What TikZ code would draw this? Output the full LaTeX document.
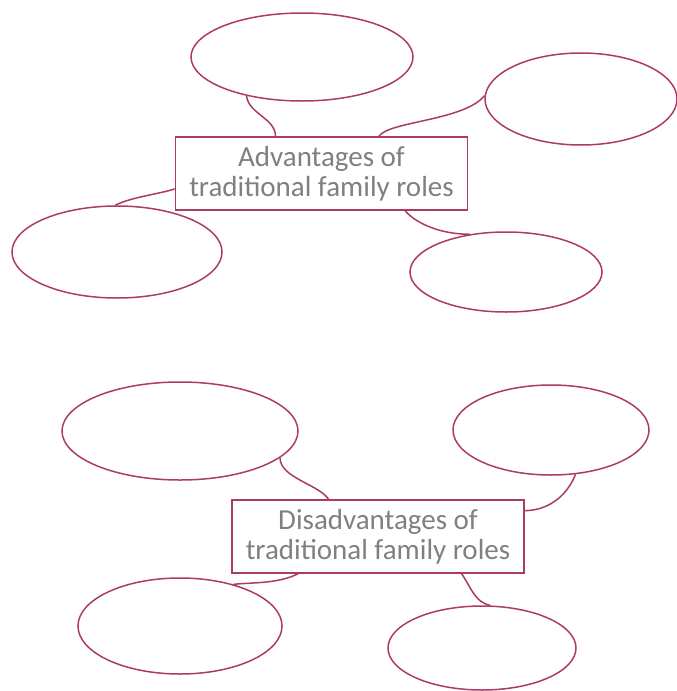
\documentclass[tikz,border=0pt]{standalone}
\usepackage{fontspec}
\setmainfont{Carlito}
\usetikzlibrary{shapes.geometric, positioning, calc}

\definecolor{plum}{RGB}{172,58,105}

\begin{document}
\begin{tikzpicture}[
    x=1pt, y=-1pt,
    bubble/.style={ellipse, draw=plum, line width=1.5pt,
                   minimum width=#1, inner sep=0pt},
    topic/.style={rectangle, draw=plum, line width=1.5pt,
                  minimum width=292pt, minimum height=73pt,
                  inner sep=2pt, align=center, text=black!50,
                  font=\fontsize{29}{30}\selectfont},
    link/.style={draw=plum, line width=1.5pt},
]

% --- page frame ---
\useasboundingbox (0,0) rectangle (677,691);

% ============================================================
%  ADVANTAGES
% ============================================================
\node (advbox) [topic] at (321.5,173.5)
    {Advantages of\\traditional family roles};

\node (adv1) [bubble=222pt, minimum height=88pt] at (302,57) {};
\node (adv2) [bubble=192pt, minimum height=92pt] at (581,99) {};
\node (adv3) [bubble=210pt, minimum height=92pt] at (117,252) {};
\node (adv4) [bubble=192pt, minimum height=80pt] at (506,272) {};

% --- advantages links ---
\draw [link] (adv1.215) .. controls +(2,18) and +(0,-18) .. (advbox.141);
\draw [link] (adv2.178) .. controls +(-20,25) and +(10,-15) .. (advbox.33);
\draw [link] (adv3.92) .. controls +(15,-8) and +(-15,5) .. (advbox.186);
\draw [link] (advbox.336) .. controls +(10,12) and +(-30,0) .. (adv4.134);

% ============================================================
%  DISADVANTAGES
% ============================================================
\node (disbox) [topic] at (378,536.5)
    {Disadvantages of\\traditional family roles};

\node (dis1) [bubble=236pt, minimum height=98pt] at (180,431) {};
\node (dis2) [bubble=196pt, minimum height=90pt] at (551,430) {};
\node (dis3) [bubble=204pt, minimum height=96pt] at (180,626) {};
\node (dis4) [bubble=188pt, minimum height=84pt] at (482,648) {};

% --- disadvantages links ---
\draw [link] (dis1.345) .. controls +(0,20) and +(-10,-15) .. (disbox.143);
\draw [link] (dis2.299) .. controls +(-10,25) and +(20,0) .. (disbox.10);
\draw [link] (disbox.205) .. controls +(-20,10) and +(20,-2) .. (dis3.38);
\draw [link] (disbox.336) .. controls +(10,15) and +(-15,-3) .. (dis4.79);

\end{tikzpicture}
\end{document}
